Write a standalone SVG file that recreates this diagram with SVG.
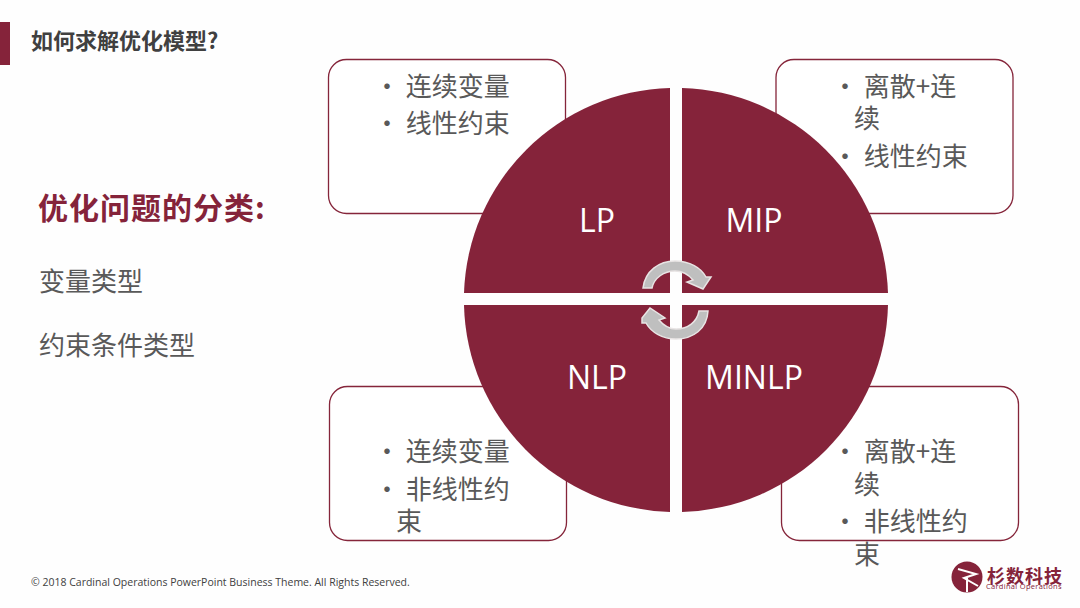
<svg xmlns="http://www.w3.org/2000/svg" width="1080" height="608" viewBox="0 0 1080 608">
<style>
text{font-family:"Open Sans","Noto Sans CJK SC",sans-serif}
.b{fill:#fff;stroke:#85253a;stroke-width:1.3}
.t{font-size:26px;fill:#595959;font-family:"Noto Sans CJK SC",sans-serif}
.k{font-size:24px;fill:#404040}
.l{font-size:32px;fill:#fff;text-anchor:middle}
.q{fill:#85233a}
.a{fill:#bfbfbf;stroke:#e8e4e4;stroke-width:1.5}
</style>
<rect width="1080" height="608" fill="#fefefe"/>
<rect y="22" width="10" height="43" fill="#85233a"/>
<text x="31" y="49" style="font:bold 22px 'Noto Sans CJK SC',sans-serif" fill="#404040">如何求解优化模型?</text>
<text x="38" y="219" style="font:bold 30px 'Noto Sans CJK SC',sans-serif;letter-spacing:1px" fill="#85233a">优化问题的分类:</text>
<text x="39" y="291" class="t">变量类型</text>
<text x="39" y="355" class="t">约束条件类型</text>
<g id="box-lp"><rect class="b" x="328.500" y="59.500" width="237" height="154" rx="18"/>
<text x="374" y="96" class="t">• 连续变量</text><text x="374" y="133" class="t">• 线性约束</text></g>
<g id="box-mip"><rect class="b" x="776" y="59.500" width="237" height="154" rx="18"/>
<text x="832" y="96" class="t">• 离散+连</text><text x="854" y="128" class="t">续</text><text x="832" y="166" class="t">• 线性约束</text></g>
<g id="box-nlp"><rect class="b" x="329.500" y="386.500" width="237" height="154" rx="18"/>
<text x="374" y="461" class="t">• 连续变量</text><text x="374" y="499" class="t">• 非线性约</text><text x="396" y="531" class="t">束</text></g>
<g id="box-minlp"><rect class="b" x="781.500" y="386.500" width="237" height="154" rx="18"/>
<text x="832" y="461" class="t">• 离散+连</text><text x="854" y="494" class="t">续</text><text x="832" y="531" class="t">• 非线性约</text><text x="854" y="564" class="t">束</text></g>
<g id="q-lp"><path class="q" d="M670 88V293H464A212 212 0 0 1 670 88Z"/><text class="l" x="597" y="232">LP</text></g>
<g id="q-mip"><path class="q" d="M682 88A212 212 0 0 1 888 293H682Z"/><text class="l" x="754" y="232">MIP</text></g>
<g id="q-nlp"><path class="q" d="M670 305V512A212 212 0 0 1 464 305Z"/><text class="l" x="597" y="389">NLP</text></g>
<g id="q-minlp"><path class="q" d="M682 305H888A212 212 0 0 1 682 512Z"/><text class="l" x="754" y="389">MINLP</text></g>
<g id="connectors">
<path class="a" d="M643 288C645 271 659 261 675 261C690 261 701 268 706 277L711 277L703 289L687 282L693 280C688 274 682 271 675 271C664 271 654 278 652 288Z"/>
<path class="a" d="M708 311C707 329 693 339 676 339C662 339 651 332 646 323L642 323L642 318L650 308L665 318L659 320C664 326 669 329 676 329C688 329 697 322 699 311Z"/>
</g>
<text x="31" y="586" style="font:10.500px 'Open Sans',sans-serif" fill="#404040">© 2018 Cardinal Operations PowerPoint Business Theme. All Rights Reserved.</text>
<g id="logo">
<circle cx="967" cy="577" r="15.500" fill="#85233a"/>
<path d="M958 569L976 574L964 578L978 586M967 578V592" fill="none" stroke="#fff" stroke-width="2"/>
<text x="987" y="583" style="font:bold 18px 'Noto Sans CJK SC',sans-serif;letter-spacing:1px" fill="#85233a">杉数科技</text>
<text x="986" y="589" style="font:7.500px 'Open Sans',sans-serif;letter-spacing:.3px" fill="#85233a">Cardinal Operations</text>
</g>
</svg>
